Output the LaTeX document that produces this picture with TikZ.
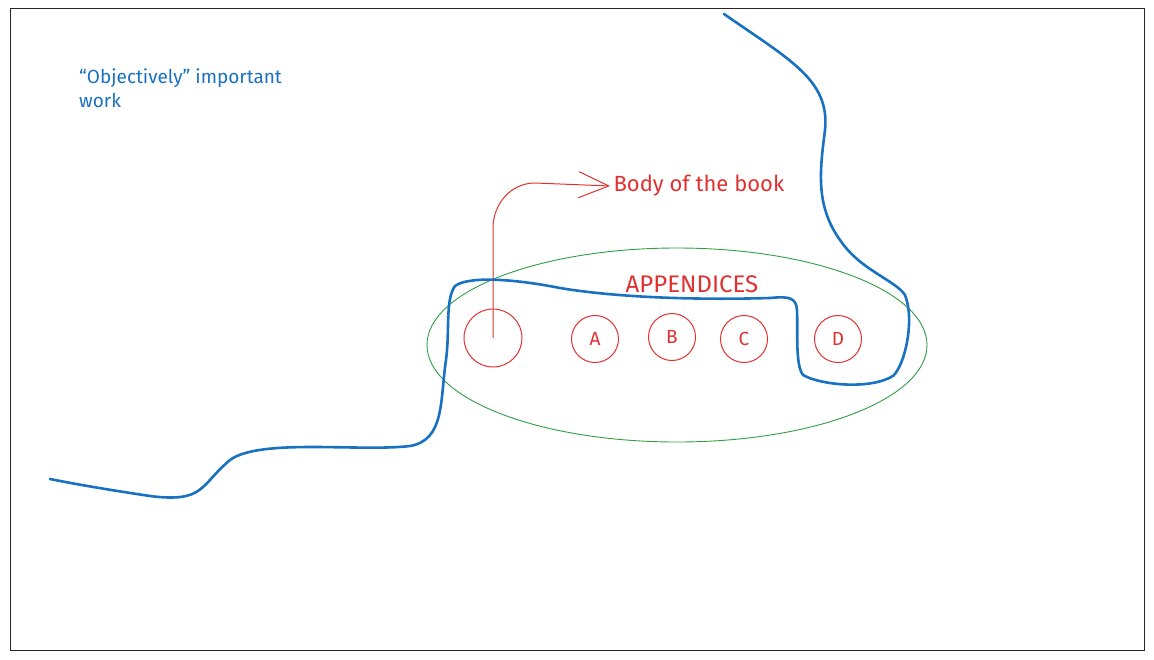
\documentclass[tikz,border=0pt]{standalone}
\usepackage{fontspec}
\setmainfont{Fira Sans}
\usetikzlibrary{arrows.meta}
\definecolor{penblue}{HTML}{1971C2}
\definecolor{penred}{HTML}{E03131}
\definecolor{pengreen}{HTML}{2F9E44}
\tikzset{
  appx/.style={draw=penred, circle, line width=1pt, minimum size=47pt, inner sep=0pt,
    text=penred, font=\fontsize{19}{22}\selectfont},
  note/.style={text=penred, font=\fontsize{22}{26}\selectfont},
}
\begin{document}
\begin{tikzpicture}[x=1pt, y=-1pt]
            \useasboundingbox (0,0) rectangle (1154,659);
            \draw[line width=1pt, black!85] (10,8) rectangle (1144,650);
            \node[text=penblue, align=left, anchor=north west, inner sep=0pt,
              font=\fontsize{19}{24}\selectfont] (work) at (79,68)
              {“Objectively” important\\work};
            % the appendices
            \draw[pengreen, line width=0.9pt] (677,345) ellipse (250 and 97);
            \node[note, font=\fontsize{24}{28}\selectfont] (appendices) at (692,284) {APPENDICES};
            \node[appx, minimum size=58pt] (body) at (493,338) {};
            \node[appx] (a) at (595,339) {A};
            \node[appx] (b) at (672,337) {B};
            \node[appx] (c) at (744,339) {C};
            \node[appx] (d) at (838,339) {D};
            \node[note, anchor=west] (book) at (610,186) {Body of the book};
            \draw[penred, line width=1pt, -{Straight Barb[length=30pt, width=26pt]}]
              (body.center) -- (493,228) to[out=90, in=180] (535,183) -- (book.west);
            % the line of important work
            \draw[penblue, line width=2.6pt, line cap=round, line join=round]
              (724,14) .. controls (790,60) and (830,80) .. (825,130)
              .. controls (820,170) and (815,205) .. (840,240)
              .. controls (860,270) and (895,280) .. (905,295)
              .. controls (915,320) and (905,365) .. (893,376)
              .. controls (870,390) and (820,385) .. (803,375)
              .. controls (795,365) and (798,330) .. (797,310)
              .. controls (796,298) and (790,296) .. (770,298)
              .. controls (700,300) and (620,298) .. (560,288)
              .. controls (520,280) and (470,275) .. (455,286)
              .. controls (445,300) and (450,330) .. (446,360)
              .. controls (440,400) and (445,440) .. (410,446)
              .. controls (360,452) and (260,438) .. (230,460)
              .. controls (200,485) and (205,503) .. (150,496)
              .. controls (110,490) and (80,485) .. (50,479);
        \end{tikzpicture}
\end{document}
